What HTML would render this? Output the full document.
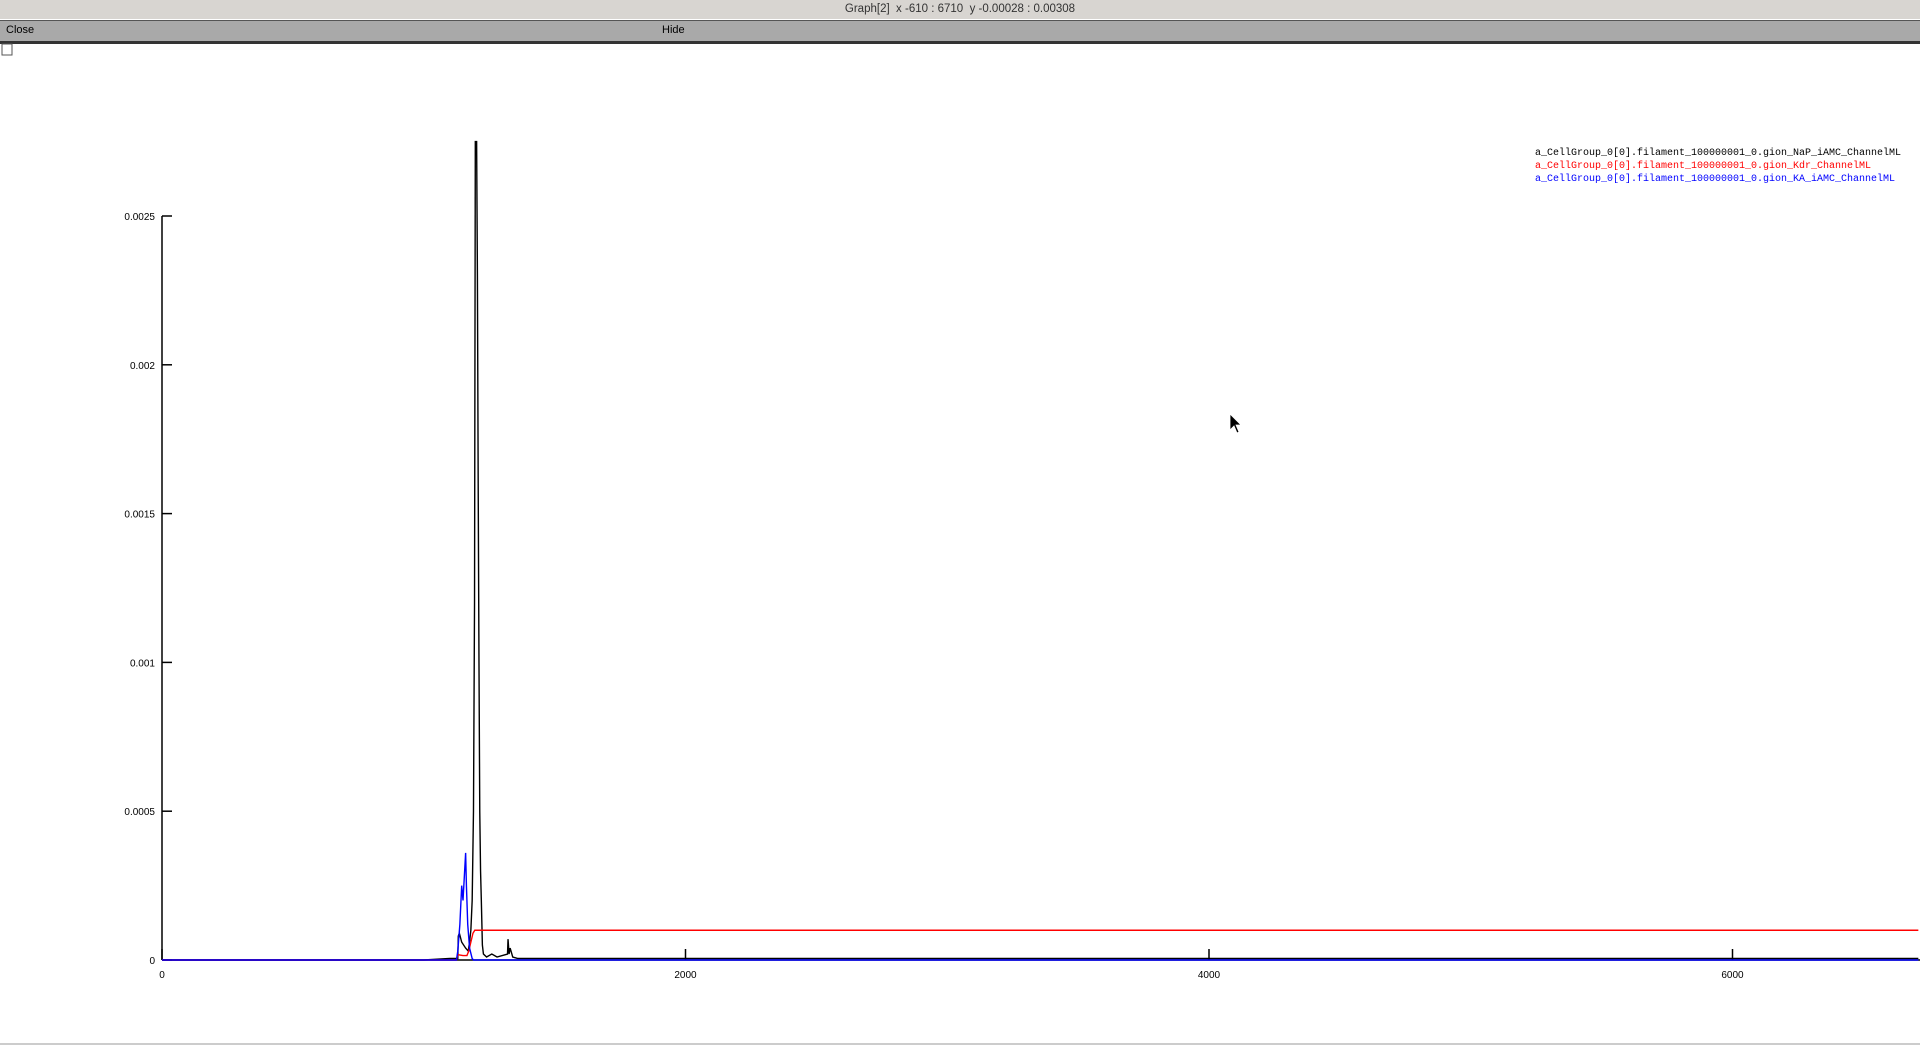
<!DOCTYPE html>
<html><head><meta charset="utf-8">
<style>
html,body{margin:0;padding:0;width:1920px;height:1045px;overflow:hidden;background:#fff;font-family:"Liberation Sans",sans-serif;}
#titlebar{position:absolute;left:0;top:0;width:1920px;height:19px;background:#d8d5d1;}
#titlebar .t{position:absolute;left:0;width:1920px;text-align:center;top:3px;font-size:11.5px;color:#333;}
#menubar{position:absolute;left:0;top:20px;width:1920px;height:20px;background:#a9a9a9;border-top:1px solid #555;border-bottom:3px solid #333;}
#menubar span{position:absolute;top:3px;font-size:11px;color:#000;}
svg{position:absolute;left:0;top:0;}
</style></head>
<body>
<div id="titlebar"><div class="t">Graph[2]&nbsp; x -610 : 6710&nbsp; y -0.00028 : 0.00308</div>
<div style="position:absolute;right:6px;top:2px;width:58px;height:14px;"></div></div>
<div id="menubar">
<span style="left:6px">Close</span>
<span style="left:662px">Hide</span>
</div>
<svg width="1920" height="1045" id="chart">
<rect x="2" y="44" width="10" height="11" fill="#fff" stroke="#555"/>
<g id="axes"></g><g id="series"></g>
<g font-family="Liberation Mono, monospace" font-size="10">
<text x="1535" y="155" fill="#000">a_CellGroup_0[0].filament_100000001_0.gion_NaP_iAMC_ChannelML</text>
<text x="1535" y="168" fill="#f00">a_CellGroup_0[0].filament_100000001_0.gion_Kdr_ChannelML</text>
<text x="1535" y="181" fill="#00f">a_CellGroup_0[0].filament_100000001_0.gion_KA_iAMC_ChannelML</text>
</g>
<path d="M1230 414 L1230 430 L1234 426 L1237 433 L1239 432 L1236 425 L1241 425 Z" fill="#000" stroke="#fff" stroke-width="0.8"/>
</svg>
<script>
const xTicks=[0,2000,4000,6000];
const yTicks=[0,0.0005,0.001,0.0015,0.002,0.0025];
const yTickLabels=["0","0.0005","0.001","0.0015","0.002","0.0025"];
const napT=[0,1000,1100,1130,1132,1136,1145,1160,1170,1175,1180,1185,1190,1194,1197,1202,1205,1208,1211,1214,1217,1220,1224,1228,1240,1260,1280,1320,1322,1326,1330,1340,1360,6710];
const napV=[0,0,0.000005,0.000005,0.00008,0.00009,0.00006,0.00004,0.00003,0.00006,0.0001,0.0002,0.0005,0.0012,0.00275,0.00275,0.0023,0.0016,0.0010,0.0005,0.0003,0.0002,0.00005,0.00002,0.00001,0.00002,0.00001,0.00002,0.00007,0.00002,0.00004,0.00001,0.000005,0.000005];
const kdrT=[0,1125,1130,1150,1165,1172,1180,1188,1195,6710];
const kdrV=[0,0,0.000018,0.000015,0.000015,0.00003,0.00006,0.00009,0.0001,0.0001];
const kaT=[0,1125,1130,1138,1145,1150,1155,1160,1163,1168,1175,1185,1190,6710];
const kaV=[0,0,0.00003,0.00012,0.00025,0.0002,0.00028,0.00036,0.00025,0.00012,0.00004,0.000005,0,0];
const NS="http://www.w3.org/2000/svg";
const X0=162,PXX=523.5/2000,Y0=960,PXY=744/0.0025;
function sx(t){return X0+t*PXX;}
function sy(v){return Y0-v*PXY;}
const axes=document.getElementById('axes');
function mk(tag,attrs,parent){const e=document.createElementNS(NS,tag);for(const k in attrs)e.setAttribute(k,attrs[k]);parent.appendChild(e);return e;}
let yax=mk('line',{x1:X0,y1:sy(0),x2:X0,y2:sy(0.0025),stroke:'#000','stroke-width':1.5},axes);


let xax=mk('line',{x1:X0,y1:Y0,x2:1920,y2:Y0,stroke:'#000','stroke-width':1.5},axes);


yTicks.forEach((v,i)=>{
  const y=sy(v);
  let l=mk('line',{x1:X0,y1:y,x2:X0+10,y2:y,stroke:'#000','stroke-width':1.5},axes);
  
  
  let t=mk('text',{x:X0-7,y:y+4,'text-anchor':'end','font-size':'10','font-family':'Liberation Sans, sans-serif'},axes);
  t.textContent=yTickLabels[i];
  
  
});
xTicks.forEach(v=>{
  const x=sx(v);
  let l=mk('line',{x1:x,y1:Y0,x2:x,y2:Y0-11,stroke:'#000','stroke-width':1.5},axes);
  
  
  let t=mk('text',{x:x,y:Y0+18,'text-anchor':'middle','font-size':'10','font-family':'Liberation Sans, sans-serif'},axes);
  t.textContent=String(v);
  
  
});
const ser=document.getElementById('series');
function line(T,V,color,name){
  const d=T.map((t,i)=>(i?'L':'M')+sx(t).toFixed(2)+' '+sy(V[i]).toFixed(2)).join(' ');
  const p=mk('path',{d:d,fill:'none',stroke:color,'stroke-width':1.4},ser);
  
  
}
line(napT,napV,'#000','series-nap');
line(kdrT,kdrV,'#f00','series-kdr');
line(kaT,kaV,'#00f','series-ka');
</script>
<div style="position:absolute;left:0;top:1043px;width:1920px;height:2px;background:#ccc"></div>
</body></html>
